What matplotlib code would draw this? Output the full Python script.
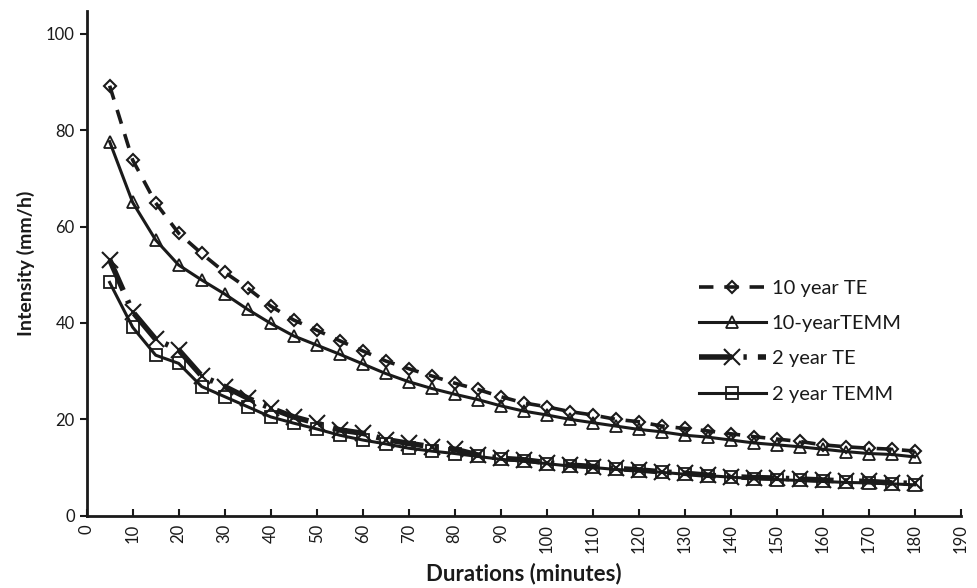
import matplotlib
matplotlib.use("Agg")
import matplotlib.pyplot as plt

plt.rcParams['font.family'] = ['Lato', 'DejaVu Sans']

durations = list(range(5, 185, 5))

te_10yr = [89.2, 73.8, 64.9, 58.6, 54.4, 50.5, 47.2, 43.5, 40.6, 38.5,
           36.3, 34.2, 32.1, 30.5, 29.0, 27.5, 26.2, 24.7, 23.4, 22.6,
           21.6, 20.9, 20.0, 19.5, 18.6, 18.1, 17.6, 17.0, 16.4, 15.9,
           15.4, 14.7, 14.3, 14.0, 13.8, 13.4]
temm_10yr = [77.6, 65.0, 57.2, 52.0, 48.9, 46.0, 42.8, 39.9, 37.3, 35.4,
             33.5, 31.5, 29.5, 27.8, 26.4, 25.2, 24.1, 22.8, 21.7, 20.9,
             20.0, 19.3, 18.6, 17.9, 17.4, 16.7, 16.3, 15.7, 15.1, 14.7,
             14.3, 13.8, 13.3, 12.9, 12.7, 12.2]
te_2yr = [53.1, 42.3, 36.6, 34.4, 29.0, 26.8, 24.4, 22.3, 20.5, 19.2,
          17.8, 17.1, 15.8, 15.0, 14.3, 13.8, 12.6, 11.9, 11.6, 11.0,
          10.5, 10.2, 9.8, 9.5, 9.1, 8.8, 8.4, 8.1, 7.9, 7.8,
          7.6, 7.4, 7.2, 7.1, 6.8, 6.7]
temm_2yr = [48.4, 39.1, 33.3, 31.6, 26.8, 24.7, 22.6, 20.5, 19.2, 18.0,
            16.7, 15.7, 14.9, 14.0, 13.4, 12.9, 12.3, 11.7, 11.3, 10.8,
            10.3, 10.0, 9.6, 9.3, 9.0, 8.6, 8.3, 8.0, 7.7, 7.5,
            7.3, 7.1, 6.9, 6.8, 6.6, 6.4]

ink = '#1a1a1a'

fig = plt.figure(figsize=(9.77, 5.88), dpi=100)
ax = fig.add_axes([0.0887, 0.123, 0.8945, 0.859])

ax.plot(durations, te_10yr, color=ink, lw=2.6, ls=(0, (4, 3)),
        marker='D', ms=6, mfc='none', mec=ink, mew=1.5, label='10 year TE')
ax.plot(durations, temm_10yr, color=ink, lw=2.2, ls='-',
        marker='^', ms=9, mfc='none', mec=ink, mew=1.3, label='10-yearTEMM')
ax.plot(durations, te_2yr, color=ink, lw=4.0, ls=(0, (6, 2, 0.6, 2)),
        marker='x', ms=11, mec=ink, mew=1.5, label='2 year TE')
ax.plot(durations, temm_2yr, color=ink, lw=2.2, ls='-',
        marker='s', ms=9, mfc='none', mec=ink, mew=1.3, label='2 year TEMM')

ax.set_xlim(0, 190)
ax.set_ylim(0, 104.8)
ax.set_xticks(range(0, 191, 10))
ax.set_yticks(range(0, 101, 20))
ax.tick_params(axis='x', direction='in', length=5, width=1.5, labelrotation=90,
               labelsize=12, colors=ink, pad=6)
ax.tick_params(axis='y', direction='out', length=5, width=1.5,
               labelsize=12, colors=ink)

for side in ('top', 'right'):
    ax.spines[side].set_visible(False)
for side in ('left', 'bottom'):
    ax.spines[side].set_linewidth(2)
    ax.spines[side].set_color(ink)

ax.set_xlabel('Durations (minutes)', fontsize=16, fontweight='bold', color=ink,
              labelpad=7)
ax.set_ylabel('Intensity (mm/h)', fontsize=14, fontweight='bold', color=ink,
              labelpad=8)

ax.legend(loc='upper left', bbox_to_anchor=(0.697, 0.555),
          bbox_transform=fig.transFigure, frameon=False, fontsize=14.5,
          handlelength=3.3, handletextpad=0.3, labelspacing=0.9,
          numpoints=1, labelcolor=ink)

fig.savefig('out.png', dpi=100)
